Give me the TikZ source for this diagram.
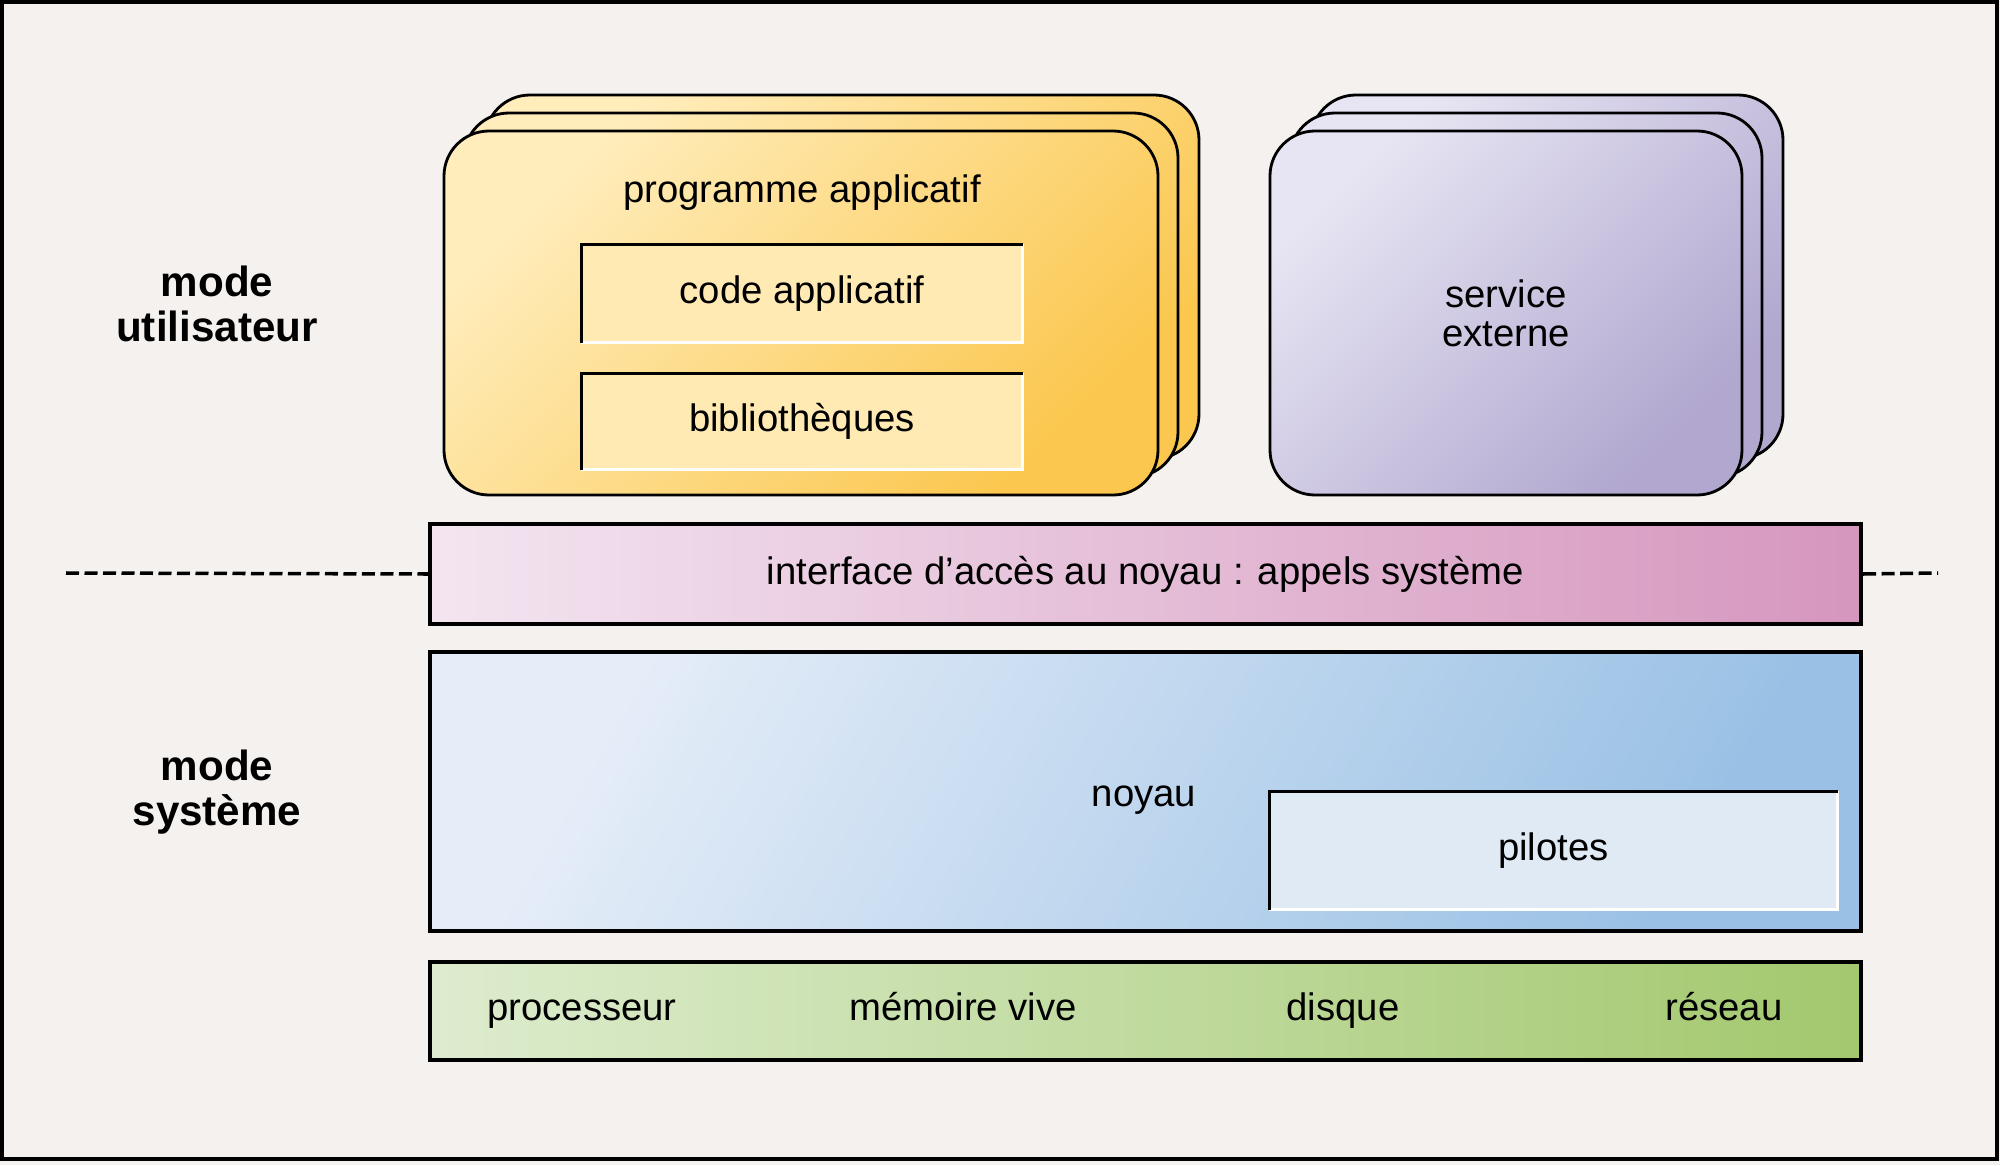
\documentclass[tikz,border=0pt]{standalone}
\usepackage{fontspec}
\setmainfont{Liberation Sans}
\usetikzlibrary{shapes}
\definecolor{bgcol}{RGB}{244,241,239}
\definecolor{yellowlt}{RGB}{255,237,188}
\definecolor{yellowdk}{RGB}{251,199,78}
\definecolor{yellowin}{RGB}{255,234,180}
\definecolor{purplelt}{RGB}{231,229,243}
\definecolor{purpledk}{RGB}{177,167,207}
\definecolor{pinklt}{RGB}{243,229,240}
\definecolor{pinkdk}{RGB}{214,150,190}
\definecolor{bluelt}{RGB}{229,237,248}
\definecolor{bluedk}{RGB}{154,193,229}
\definecolor{bluein}{RGB}{224,234,245}
\definecolor{greenlt}{RGB}{221,236,206}
\definecolor{greendk}{RGB}{163,200,110}
\tikzstyle{stackbox}=[rectangle,rounded corners=0.45cm,draw=black,line width=0.8pt,minimum height=3.64cm,inner sep=0pt]
\tikzstyle{appstack}=[stackbox,minimum width=7.14cm,top color=yellowlt,bottom color=yellowdk,shading angle=45]
\tikzstyle{srvstack}=[stackbox,minimum width=4.72cm,top color=purplelt,bottom color=purpledk,shading angle=45]
\tikzstyle{slab}=[rectangle,draw=black,line width=1.2pt,minimum width=14.31cm,inner sep=0pt]
\tikzstyle{insetbox}=[rectangle,inner sep=0pt]
\tikzstyle{txt}=[font=\fontsize{10.9}{11.2}\selectfont,align=center]
\tikzstyle{hwtxt}=[txt,anchor=base]
\tikzstyle{modetxt}=[font=\bfseries\fontsize{12}{12.6}\selectfont,align=center]
\tikzstyle{sep}=[line width=1pt,dash pattern=on 0.13cm off 0.055cm]

\begin{document}
\begin{tikzpicture}[txt]
\useasboundingbox (0,0) rectangle (20,11.65);
\fill[bgcol] (0,0) rectangle (20,11.65);
\draw[line width=0.9pt] (0.02,0.06) rectangle (19.97,11.63);

\node[modetxt] (user) at (2.17,8.61) {mode\\utilisateur};
\node[modetxt] (sys) at (2.17,3.73) {mode\\système};

\node[appstack] (app3) at (8.42,8.88) {};
\node[appstack] (app2) at (8.21,8.70) {};
\node[appstack] (app) at (8.01,8.52) {};
\node[txt] (apptxt) at (8.02,9.72) {programme applicatif};
\node[insetbox,fill=yellowin,minimum width=4.40cm,minimum height=0.97cm] (code) at (8.02,8.715) {\raisebox{-0.25ex}{code applicatif}};
\node[insetbox,fill=yellowin,minimum width=4.40cm,minimum height=0.95cm] (lib) at (8.02,7.435) {\raisebox{-0.25ex}{bibliothèques}};

\node[srvstack] (srv3) at (15.47,8.88) {};
\node[srvstack] (srv2) at (15.26,8.70) {};
\node[srvstack] (srv) at (15.06,8.52) {service\\externe};

\node[slab,minimum height=1.00cm,left color=pinklt,right color=pinkdk] (sc) at (11.455,5.91) {interface d’accès au noyau : appels système};
\coordinate (dl) at (0.66,5.92);
\coordinate (dr) at (19.38,5.92);
\draw[sep] (dl) -- (sc.west);
\draw[sep] (sc.east) -- (dr);

\node[slab,minimum height=2.79cm,top color=bluelt,bottom color=bluedk,shading angle=60] (kern) at (11.455,3.735) {};
\node[txt] (kerntxt) at (11.44,3.65) {noyau};
\node[insetbox,fill=bluein,minimum width=5.67cm,minimum height=1.17cm] (drv) at (15.535,3.145) {\raisebox{-0.35ex}{pilotes}};

\node[slab,minimum height=0.98cm,left color=greenlt,right color=greendk] (hw) at (11.455,1.54) {};
\node[hwtxt] (cpu) at (5.82,1.45) {processeur};
\node[hwtxt] (ram) at (9.63,1.45) {mémoire vive};
\node[hwtxt] (disk) at (13.43,1.45) {disque};
\node[hwtxt] (net) at (17.24,1.45) {réseau};

\foreach \n in {code,lib,drv} {
\draw[white,line width=0.7pt] (\n.north east) -- (\n.south east) -- (\n.south west);
\draw[black,line width=0.7pt] (\n.south west) -- (\n.north west) -- (\n.north east);
}
\end{tikzpicture}
\end{document}
